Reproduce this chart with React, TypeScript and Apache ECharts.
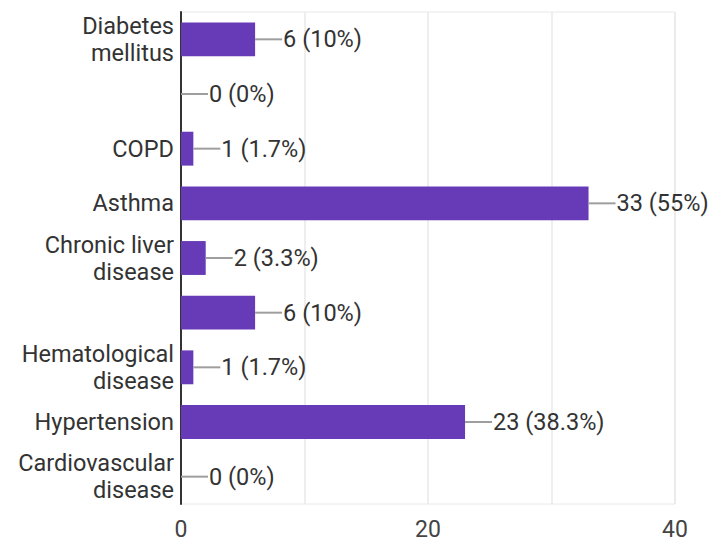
import React, { useEffect, useRef } from "react";
import * as echarts from "echarts";

const categories = [
  "Diabetes\nmellitus",
  "",
  "COPD",
  "Asthma",
  "Chronic liver\ndisease",
  "",
  "Hematological\ndisease",
  "Hypertension",
  "Cardiovascular\ndisease",
];
const counts = [6, 0, 1, 33, 2, 6, 1, 23, 0];
const percentLabels = ["10%", "0%", "1.7%", "55%", "3.3%", "10%", "1.7%", "38.3%", "0%"];
const xTickLabels = [0, 20, 40];

export default function App() {
  const ref = useRef<HTMLDivElement>(null);
  useEffect(() => {
    if (!ref.current) return;
    const chart = echarts.init(ref.current, null, { renderer: "svg" });
    chart.setOption({
      animation: false,
      backgroundColor: "#ffffff",
      textStyle: { fontFamily: "Roboto" },
      grid: {
        left: 181,
        right: 35,
        top: 12,
        bottom: 38,
        show: true,
        borderColor: "#e8e8e8",
        borderWidth: 1,
      },
      xAxis: {
        type: "value",
        min: 0,
        max: 40,
        interval: 10,
        axisLine: { show: false },
        axisTick: { show: false },
        splitLine: { show: true, lineStyle: { color: "#e8e8e8", width: 1.5 } },
        axisLabel: {
          fontSize: 23,
          color: "#444",
          fontFamily: "Roboto",
          margin: 14,
          formatter: (v: number) => (xTickLabels.includes(v) ? String(v) : ""),
        },
      },
      yAxis: {
        type: "category",
        inverse: true,
        data: categories,
        axisLine: { show: true, lineStyle: { color: "#333", width: 2 } },
        axisTick: { show: false },
        axisLabel: {
          fontSize: 23.5,
          color: "#333",
          fontFamily: "Roboto",
          lineHeight: 27,
          margin: 7,
          align: "right",
        },
      },
      series: [
        {
          type: "bar",
          data: counts,
          barWidth: "62%",
          itemStyle: { color: "#673ab7" },
          label: {
            show: true,
            position: "right",
            distance: 0,
            formatter: (p: any) => `{l|}{t|${counts[p.dataIndex]} (${percentLabels[p.dataIndex]})}`,
            rich: {
              l: { width: 27, height: 2, backgroundColor: "#9e9e9e" },
              t: { fontSize: 23.5, color: "#333", fontFamily: "Roboto", padding: [0, 0, 0, 1] },
            },
          },
        },
      ],
    });
    return () => chart.dispose();
  }, []);
  return (
    <div
      ref={ref}
      style={{ position: "fixed", left: 0, top: 0, width: 710, height: 542 }}
    />
  );
}
